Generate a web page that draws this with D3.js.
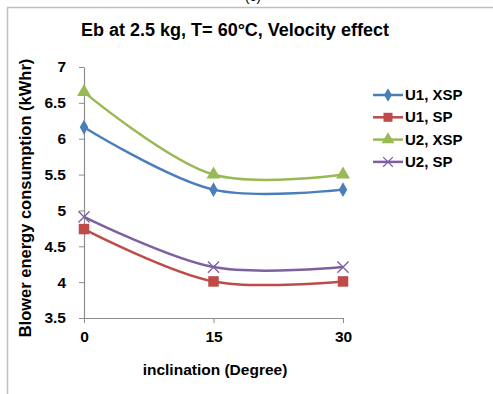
<!DOCTYPE html>
<html>
<head>
<meta charset="utf-8">
<script src="https://cdn.jsdelivr.net/npm/d3@7"></script>
<style>
  body { margin: 0; background: #fff; }
  svg text { font-family: "Liberation Sans", Arial, sans-serif; font-weight: bold; fill: #000; }
</style>
</head>
<body>
<div id="chart"></div>
<script>
// chart data
const inclination = [0, 15, 30];
const u1Xsp = [6.16, 5.29, 5.29];
const u1Sp = [4.74, 4.01, 4.01];
const u2Xsp = [6.65, 5.50, 5.50];
const u2Sp = [4.91, 4.21, 4.21];
const yTicks = [3.5, 4, 4.5, 5, 5.5, 6, 6.5, 7];
const seriesNames = ["U1, XSP", "U1, SP", "U2, XSP", "U2, SP"];

const series = [
    {name: seriesNames[0], values: u1Xsp, color: "#4A7EBB", marker: "diamond"},
    {name: seriesNames[1], values: u1Sp, color: "#BE4B48", marker: "square"},
    {name: seriesNames[2], values: u2Xsp, color: "#98B954", marker: "triangle"},
    {name: seriesNames[3], values: u2Sp, color: "#7D60A0", marker: "cross"}
];

const width = 493, height = 394;
const svg = d3.select("#chart").append("svg")
    .attr("width", width)
    .attr("height", height);

// frame (only left + top edges are visible in the crop)
svg.append("path")
    .attr("d", "M7.5,394 L7.5,7.5 L493,7.5")
    .attr("fill", "none")
    .attr("stroke", "#bfbfbf")
    .attr("stroke-width", 1.5);

svg.append("text")
    .attr("x", 253).attr("y", 1)
    .attr("text-anchor", "middle")
    .style("font-size", "14px").style("font-weight", "normal")
    .text("(c)");

svg.append("text")
    .attr("x", 235).attr("y", 36)
    .attr("text-anchor", "middle")
    .style("font-size", "18px")
    .text("Eb at 2.5 kg, T= 60°C,  Velocity effect");

const x = d3.scaleLinear().domain([0, 30]).range([84, 343]);
const y = d3.scaleLinear().domain([3.5, 7]).range([318, 67]);

// axes
const xAxis = svg.append("g")
    .attr("transform", `translate(0,${y(3.5)})`)
    .call(d3.axisBottom(x).tickValues(inclination).tickSize(5).tickSizeOuter(0).tickPadding(8));
const yAxis = svg.append("g")
    .attr("transform", `translate(${x(0)},0)`)
    .call(d3.axisLeft(y).tickValues(yTicks).tickSize(5).tickSizeOuter(0).tickPadding(13)
        .tickFormat(d3.format("")));
[xAxis, yAxis].forEach(g => {
    g.attr("font-size", null).attr("font-family", null);
    g.select(".domain").attr("stroke", "#8c8c8c").attr("stroke-width", 1.2);
    g.selectAll(".tick line").attr("stroke", "#8c8c8c");
    g.selectAll(".tick text").style("font-size", "15.5px");
});

svg.append("text")
    .attr("x", 215).attr("y", 375)
    .attr("text-anchor", "middle")
    .style("font-size", "15.5px")
    .text("inclination (Degree)");

svg.append("text")
    .attr("transform", `translate(31,198) rotate(-90)`)
    .attr("text-anchor", "middle")
    .style("font-size", "16.5px")
    .text("Blower energy consumption (kWhr)");

const line = d3.line()
    .x((d, i) => x(inclination[i]))
    .y(d => y(d))
    .curve(d3.curveCatmullRom.alpha(0.5));

function drawMarker(g, type, color, cx, cy, s) {
    if (type === "diamond") {
        g.append("path").attr("d", d3.symbol(d3.symbolDiamond, s * 9)())
            .attr("transform", `translate(${cx},${cy})`).attr("fill", color);
    } else if (type === "square") {
        g.append("rect").attr("x", cx - s * 0.75).attr("y", cy - s * 0.75)
            .attr("width", s * 1.5).attr("height", s * 1.5).attr("fill", color);
    } else if (type === "triangle") {
        g.append("path").attr("d", d3.symbol(d3.symbolTriangle, s * 12)())
            .attr("transform", `translate(${cx},${cy})`).attr("fill", color);
    } else {
        g.append("path").attr("d", `M${cx - s * 0.8},${cy - s * 0.8}L${cx + s * 0.8},${cy + s * 0.8}M${cx - s * 0.8},${cy + s * 0.8}L${cx + s * 0.8},${cy - s * 0.8}`)
            .attr("stroke", color).attr("stroke-width", 1.3);
    }
}

const plot = svg.append("g");
series.forEach(s => {
    plot.append("path")
        .datum(s.values)
        .attr("d", line)
        .attr("fill", "none")
        .attr("stroke", s.color)
        .attr("stroke-width", 2.5);
    s.values.forEach((v, i) => drawMarker(plot, s.marker, s.color, x(inclination[i]), y(v), 7));
});

// legend
const legend = svg.append("g");
series.forEach((s, i) => {
    const ly = 95 + i * 22.3;
    legend.append("line")
        .attr("x1", 373).attr("x2", 403).attr("y1", ly).attr("y2", ly)
        .attr("stroke", s.color).attr("stroke-width", 2.5);
    drawMarker(legend, s.marker, s.color, 388, ly, 6);
    legend.append("text")
        .attr("x", 405).attr("y", ly + 5)
        .style("font-size", "15px")
        .text(s.name);
});
</script>
</body>
</html>
